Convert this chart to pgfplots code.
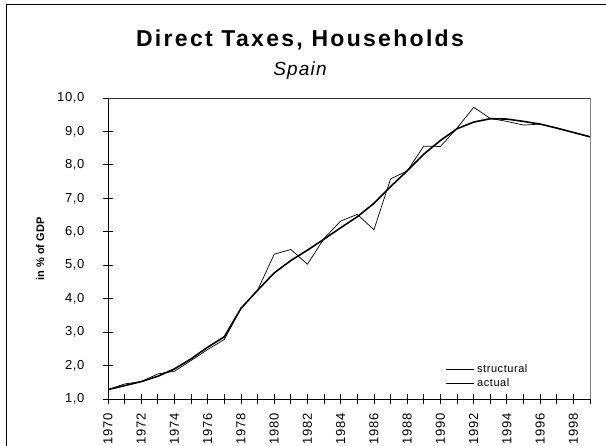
\documentclass[border=0pt]{standalone}
\usepackage{fontspec}
\setmainfont{Liberation Sans}
\newfontfamily\spaced{Liberation Sans}[LetterSpace=5]
\usepackage{pgfplots}
\pgfplotsset{compat=1.18}
\begin{document}
\begin{tikzpicture}
\path[use as bounding box] (0pt,0pt) rectangle (606pt,446pt);
\draw[line width=0.8pt] (6pt,0pt) -- (6pt,442pt) -- (606pt,442pt);
\node[font={\fontsize{23}{25}\selectfont\bfseries\addfontfeatures{LetterSpace=10}}, anchor=base] at (300pt,399pt) {Direct Taxes, Households};
\node[font={\fontsize{19}{21}\selectfont\itshape\addfontfeatures{LetterSpace=6}}, anchor=base] at (300pt,370pt) {Spain};
\node[font={\fontsize{11}{12}\selectfont\bfseries}, rotate=90, anchor=base] at (44pt,197pt) {in \% of GDP};
\begin{axis}[
  scale only axis, width=482pt, height=301pt,
  at={(108pt,47pt)}, anchor=south west,
  xmin=1970, xmax=1999, ymin=1, ymax=10,
  axis line style={draw=none},
  xtick={1970,...,1999},
  xticklabels={1970,,1972,,1974,,1976,,1978,,1980,,1982,,1984,,1986,,1988,,1990,,1992,,1994,,1996,,1998,},
  ytick={1,...,10},
  tick align=center, major tick length=10pt,
  tick style={black, line width=0.8pt},
  xticklabel shift=9pt, yticklabel shift=15pt,
  xticklabel style={rotate=90, anchor=east, font=\fontsize{13}{14}\selectfont\spaced, inner sep=0pt},
  yticklabel style={font=\fontsize{13}{14}\selectfont\spaced, /pgf/number format/.cd, fixed, fixed zerofill, precision=1, use comma},
  /pgf/number format/assume math mode=true,
  scaled y ticks=false,
  xtick pos=bottom, ytick pos=left,
  legend style={draw=none, fill=none, at={(rel axis cs:0.70,0.03)}, anchor=south west, font=\fontsize{11}{12}\selectfont\spaced, row sep=0pt, legend cell align=left, inner sep=0pt},
  legend image code/.code={\draw[#1] (0pt,0pt) -- (28pt,0pt);},
  clip=false,
]
\addplot[black, line width=1.6pt] coordinates {
(1970,1.28) (1971,1.40) (1972,1.52) (1973,1.68) (1974,1.90) (1975,2.20) (1976,2.55) (1977,2.86) (1978,3.71) (1979,4.25)
(1980,4.77) (1981,5.14) (1982,5.45) (1983,5.78) (1984,6.12) (1985,6.45) (1986,6.85) (1987,7.35) (1988,7.82) (1989,8.32)
(1990,8.73) (1991,9.08) (1992,9.28) (1993,9.38) (1994,9.37) (1995,9.30) (1996,9.22) (1997,9.10) (1998,8.97) (1999,8.84)};
\addlegendentry{structural}
\addplot[black, line width=0.7pt] coordinates {
(1970,1.28) (1971,1.45) (1972,1.52) (1973,1.75) (1974,1.83) (1975,2.15) (1976,2.48) (1977,2.78) (1978,3.71) (1979,4.25)
(1980,5.33) (1981,5.47) (1982,5.03) (1983,5.80) (1984,6.32) (1985,6.52) (1986,6.06) (1987,7.58) (1988,7.82) (1989,8.56)
(1990,8.55) (1991,9.10) (1992,9.72) (1993,9.39) (1994,9.30) (1995,9.19) (1996,9.22) (1997,9.10) (1998,8.97) (1999,8.84)};
\addlegendentry{actual}
\draw[black, line width=0.8pt] (rel axis cs:0,1) -- (rel axis cs:0,0) -- (rel axis cs:1,0);
\draw[black!80, line width=0.8pt] (rel axis cs:0,1) -- (rel axis cs:1,1);
\draw[black!50, line width=1pt] (rel axis cs:1,1) -- (rel axis cs:1,0);
\end{axis}
\end{tikzpicture}
\end{document}
